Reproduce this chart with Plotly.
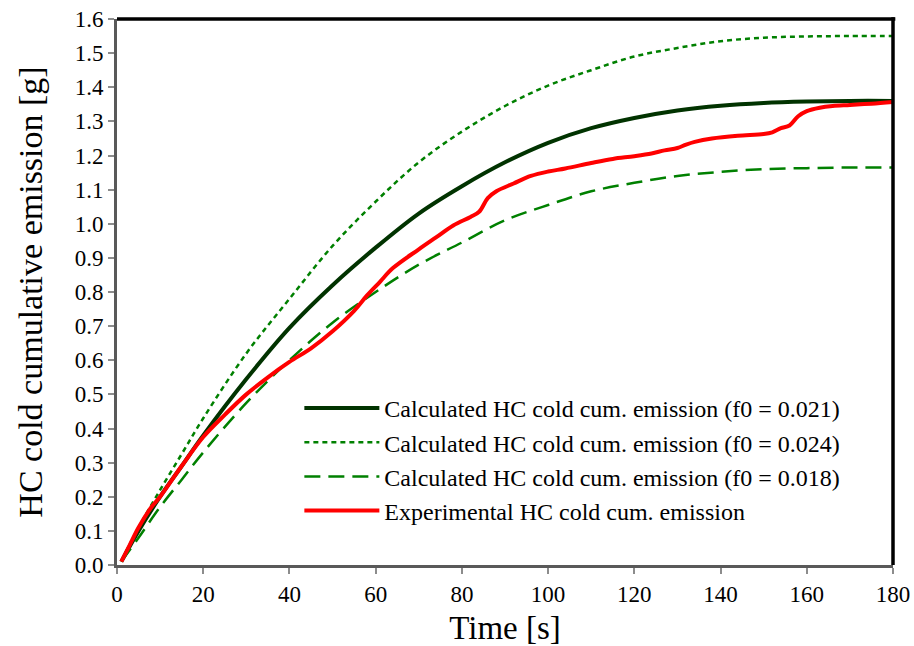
import plotly.graph_objects as go

# ---------------- data ----------------
t_calc = [1, 5, 10, 15, 20, 30, 40, 50, 60, 70, 80, 90, 100, 110, 120, 130, 140, 150, 160, 170, 180]
calc_021 = [0.01, 0.10, 0.20, 0.29, 0.38, 0.545, 0.695, 0.82, 0.93, 1.03, 1.11, 1.18, 1.237, 1.28, 1.31, 1.332, 1.346, 1.354, 1.358, 1.36, 1.36]
calc_024 = [0.01, 0.11, 0.22, 0.325, 0.43, 0.62, 0.78, 0.935, 1.065, 1.18, 1.27, 1.345, 1.405, 1.45, 1.49, 1.515, 1.535, 1.545, 1.549, 1.55, 1.55]
calc_018 = [0.01, 0.08, 0.17, 0.25, 0.33, 0.475, 0.60, 0.71, 0.80, 0.88, 0.945, 1.01, 1.055, 1.095, 1.12, 1.14, 1.152, 1.16, 1.163, 1.165, 1.165]

t_exp = [1, 3, 5, 8, 10, 15, 20, 25, 30, 35, 40, 45, 50, 55, 58, 61, 64, 70, 74, 78, 82, 84, 86, 88,
         92, 96, 100, 104, 110, 115, 120, 124, 127, 130, 132, 134, 138, 144, 150, 152, 154, 156, 158,
         160, 163, 166, 170, 175, 180]
exp_vals = [0.01, 0.06, 0.11, 0.17, 0.20, 0.29, 0.375, 0.44, 0.50, 0.55, 0.595, 0.635, 0.685, 0.745, 0.79,
            0.83, 0.87, 0.925, 0.96, 0.995, 1.02, 1.035, 1.075, 1.095, 1.118, 1.14, 1.153, 1.162, 1.178,
            1.19, 1.198, 1.206, 1.215, 1.222, 1.232, 1.24, 1.25, 1.258, 1.263, 1.268, 1.28, 1.288, 1.315,
            1.33, 1.34, 1.345, 1.348, 1.352, 1.357]

names = [
    "Calculated HC cold cum. emission (f0 = 0.021)",
    "Calculated HC cold cum. emission (f0 = 0.024)",
    "Calculated HC cold cum. emission (f0 = 0.018)",
    "Experimental HC cold cum. emission",
]

x_ticks = list(range(0, 181, 20))
y_ticks = [i / 10 for i in range(0, 17)]

FONT = "Liberation Serif"

fig = go.Figure()
fig.add_trace(go.Scatter(x=t_calc, y=calc_021, mode="lines", name=names[0],
                         line=dict(color="#013300", width=4, shape="spline")))
fig.add_trace(go.Scatter(x=t_calc, y=calc_024, mode="lines", name=names[1],
                         line=dict(color="#008000", width=2.5, dash="5px,4px", shape="spline")))
fig.add_trace(go.Scatter(x=t_calc, y=calc_018, mode="lines", name=names[2],
                         line=dict(color="#008000", width=2.5, dash="16px,8px", shape="spline")))
fig.add_trace(go.Scatter(x=t_exp, y=exp_vals, mode="lines", name=names[3],
                         line=dict(color="#FF0000", width=4, shape="spline")))

fig.update_layout(
    width=914, height=646,
    margin=dict(l=117, r=21, t=19, b=81, autoexpand=False),
    paper_bgcolor="white", plot_bgcolor="white",
    font=dict(family=FONT, color="black", size=23),
    showlegend=True,
    legend=dict(x=0.235, y=0.328, xanchor="left", yanchor="top",
                bgcolor="rgba(0,0,0,0)", font=dict(family=FONT, size=24),
                itemwidth=75, tracegroupgap=0),
    xaxis=dict(range=[0, 180], tickvals=x_ticks, showgrid=False, zeroline=False,
               showline=True, linecolor="#595959", linewidth=3,
               ticks="outside", ticklen=6, tickcolor="#8c8c8c", tickwidth=1.5,
               tickfont=dict(family=FONT, size=23),
               title=dict(text="Time [s]", font=dict(family=FONT, size=33), standoff=15)),
    yaxis=dict(range=[0, 1.6], tickvals=y_ticks, tickformat=".1f", showgrid=False, zeroline=False,
               showline=True, linecolor="#595959", linewidth=3,
               ticks="outside", ticklen=6, tickcolor="#8c8c8c", tickwidth=1.5,
               tickfont=dict(family=FONT, size=23),
               title=dict(text="HC cold cumulative emission [g]", font=dict(family=FONT, size=34), standoff=22)),
    shapes=[
        dict(type="line", xref="paper", yref="paper", x0=0, x1=1.003, y0=1, y1=1,
             line=dict(color="black", width=3.5)),
        dict(type="line", xref="paper", yref="paper", x0=1, x1=1, y0=0, y1=1.003,
             line=dict(color="black", width=3.5)),
    ],
)

fig.write_html("out.html", config={"displayModeBar": False},
               post_script="document.body.style.margin='0';document.body.style.overflow='hidden';")
